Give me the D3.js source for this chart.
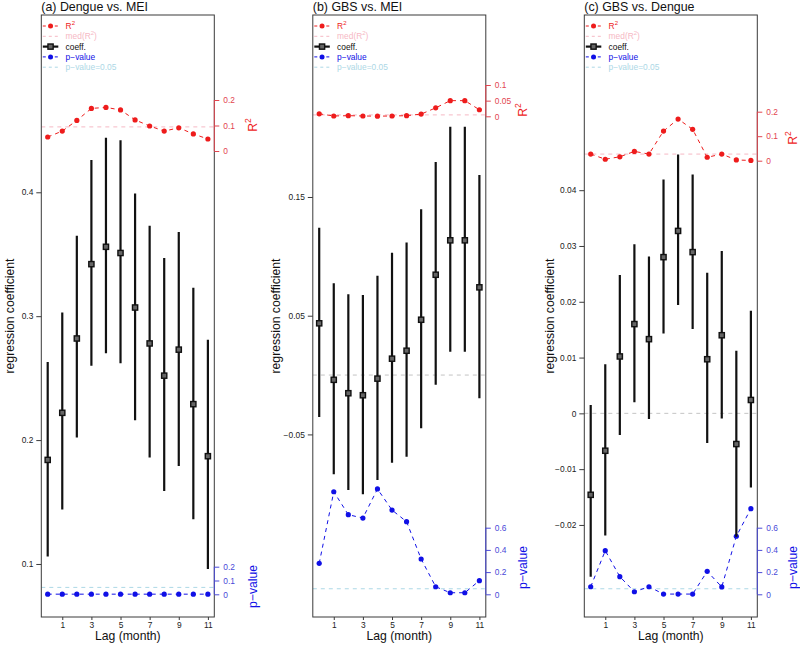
<!DOCTYPE html>
<html><head><meta charset="utf-8">
<script src="https://cdn.jsdelivr.net/npm/d3@7"></script>
<style>body{margin:0;background:#fff} svg{display:block} text{font-family:"Liberation Sans",Arial,Helvetica,sans-serif}</style>
</head><body><svg id="chart" width="800" height="646"></svg>
<script>
// ---------- data ----------
const lags = [0,1,2,3,4,5,6,7,8,9,10,11];
const lagTickLabels = [1,3,5,7,9,11];
const titles = ["(a) Dengue vs. MEI","(b) GBS vs. MEI","(c) GBS vs. Dengue"];

const aCoef  = [0.184,0.222,0.282,0.342,0.356,0.351,0.307,0.278,0.252,0.273,0.229,0.187];
const aLower = [0.106,0.144,0.202,0.260,0.270,0.262,0.216,0.186,0.159,0.179,0.136,0.096];
const aUpper = [0.263,0.303,0.365,0.426,0.444,0.442,0.399,0.373,0.347,0.368,0.323,0.281];
const aR2    = [0.055,0.078,0.120,0.167,0.171,0.161,0.122,0.098,0.078,0.091,0.067,0.047];
const aP     = [0.001,0.001,0.001,0.001,0.001,0.001,0.001,0.001,0.001,0.001,0.001,0.001];

const bCoef  = [0.0436,-0.0040,-0.0153,-0.0170,-0.0030,0.0138,0.0205,0.0466,0.0845,0.1135,0.1135,0.0739];
const bLower = [-0.0353,-0.0836,-0.0969,-0.1005,-0.0884,-0.0739,-0.0688,-0.0448,-0.0082,0.0197,0.0197,-0.0195];
const bUpper = [0.1240,0.0774,0.0680,0.0674,0.0837,0.1030,0.1117,0.1396,0.1795,0.2092,0.2092,0.1685];
const bR2    = [0.008,0.001,0.002,0.001,0.0005,0.001,0.002,0.007,0.027,0.050,0.050,0.021];
const bP     = [0.279,0.924,0.717,0.687,0.949,0.759,0.654,0.318,0.068,0.014,0.014,0.123];

const cCoef  = [-0.0146,-0.0067,0.0102,0.0160,0.0133,0.0280,0.0327,0.0289,0.0097,0.0140,-0.0055,0.0024];
const cLower = [-0.0293,-0.0219,-0.0039,0.0020,-0.0010,0.0143,0.0194,0.0151,-0.0053,-0.0009,-0.0221,-0.0133];
const cUpper = [0.0015,0.0088,0.0248,0.0303,0.0281,0.0419,0.0464,0.0428,0.0252,0.0291,0.0112,0.0184];
const cR2    = [0.027,0.006,0.016,0.038,0.027,0.121,0.170,0.128,0.014,0.027,0.003,0.001];
const cP     = [0.068,0.393,0.159,0.023,0.068,0.002,0.002,0.002,0.207,0.066,0.523,0.771];

const aCoefTicks = [0.1,0.2,0.3,0.4];
const bCoefTicks = [-0.05,0.05,0.15];
const cCoefTicks = [-0.02,-0.01,0,0.01,0.02,0.03,0.04];
const aR2Ticks = [0,0.1,0.2];
const bR2Ticks = [0,0.05,0.1];
const cR2Ticks = [0,0.1,0.2];
const aPTicks = [0,0.1,0.2];
const bPTicks = [0,0.2,0.4,0.6];
const cPTicks = [0,0.2,0.4,0.6];
const pThreshold = 0.05;

const legendLabels = ["R2","med(R2)","coeff.","p\u2212value","p\u2212value=0.05"];

// ---------- layout ----------
const TOP = 15, BOTTOM = 617, W = 173;
const panels = [
  {title:titles[0], coef:aCoef, lo:aLower, hi:aUpper, r2:aR2, p:aP,
   coefTicks:aCoefTicks, r2Ticks:aR2Ticks, pTicks:aPTicks,
   left:41.3, coefDomain:[0.0572,0.5431], r2Range:[151,100], pRange:[594.3,566.7],
   ylabX:10, r2LabY:125, pLabY:586.5, rLabX:38.5},
  {title:titles[1], coef:bCoef, lo:bLower, hi:bUpper, r2:bR2, p:bP,
   coefTicks:bCoefTicks, r2Ticks:bR2Ticks, pTicks:bPTicks,
   left:312.8, coefDomain:[-0.2038,0.3033], r2Range:[116.3,85], pRange:[594.3,527.7],
   ylabX:276, r2LabY:110, pLabY:567.5, rLabX:37},
  {title:titles[2], coef:cCoef, lo:cLower, hi:cUpper, r2:cR2, p:cP,
   coefTicks:cCoefTicks, r2Ticks:cR2Ticks, pTicks:cPTicks,
   left:584.3, coefDomain:[-0.0365,0.0714], r2Range:[160.7,111.7], pRange:[594.3,527.7],
   ylabX:550, r2LabY:138, pLabY:567.5, rLabX:35.5}
];

const RED = "#ee1c1c", REDAX = "#e2454f", PINK = "#f6b8c4", BLUE = "#1010e6", BLUEAX = "#4a4ad8", LBLUE = "#add8e6";
const fmt = v => (v < 0 ? "\u2212" : "") + String(Math.abs(+v.toFixed(4)));

const svg = d3.select("#chart");

panels.forEach(P => {
  const g = svg.append("g");
  const x = d3.scaleLinear().domain([-0.44, 11.44]).range([P.left, P.left + W]);
  const y = d3.scaleLinear().domain(P.coefDomain).range([BOTTOM, TOP]);
  const r2Max = d3.max(P.r2Ticks);
  const yR = d3.scaleLinear().domain([0, r2Max]).range(P.r2Range);
  const pMax = d3.max(P.pTicks);
  const yP = d3.scaleLinear().domain([0, pMax]).range(P.pRange);
  const right = P.left + W;
  const clipId = "clip" + Math.round(P.left);
  svg.append("clipPath").attr("id", clipId).append("rect")
    .attr("x", P.left).attr("y", TOP).attr("width", W).attr("height", BOTTOM - TOP);
  const inner = g.append("g").attr("clip-path", `url(#${clipId})`);

  // zero line
  if (P.coefDomain[0] < 0 && P.coefDomain[1] > 0) {
    inner.append("line").attr("x1", P.left).attr("x2", right)
      .attr("y1", y(0)).attr("y2", y(0))
      .attr("stroke", "#c4c4c4").attr("stroke-width", 1).attr("stroke-dasharray", "4,4");
  }
  // median R2
  const med = d3.median(P.r2);
  inner.append("line").attr("x1", P.left).attr("x2", right)
    .attr("y1", yR(med)).attr("y2", yR(med))
    .attr("stroke", PINK).attr("stroke-width", 1).attr("stroke-dasharray", "4,4");
  // p=0.05
  inner.append("line").attr("x1", P.left).attr("x2", right)
    .attr("y1", yP(pThreshold)).attr("y2", yP(pThreshold))
    .attr("stroke", LBLUE).attr("stroke-width", 1).attr("stroke-dasharray", "4,4");

  // R2 series
  const lineR = d3.line().x((d,i) => x(lags[i])).y(d => yR(d));
  inner.append("path").attr("d", lineR(P.r2)).attr("fill", "none")
    .attr("stroke", RED).attr("stroke-width", 1).attr("stroke-dasharray", "4,4");
  inner.selectAll(".r2pt").data(P.r2).enter().append("circle")
    .attr("cx", (d,i) => x(lags[i])).attr("cy", d => yR(d)).attr("r", 2.6).attr("fill", RED);

  // p series
  const lineP = d3.line().x((d,i) => x(lags[i])).y(d => yP(d));
  inner.append("path").attr("d", lineP(P.p)).attr("fill", "none")
    .attr("stroke", BLUE).attr("stroke-width", 1).attr("stroke-dasharray", "4,4");
  inner.selectAll(".ppt").data(P.p).enter().append("circle")
    .attr("cx", (d,i) => x(lags[i])).attr("cy", d => yP(d)).attr("r", 2.6).attr("fill", BLUE);

  // coefficient CIs
  inner.selectAll(".ci").data(lags).enter().append("line")
    .attr("x1", d => x(d)).attr("x2", d => x(d))
    .attr("y1", (d,i) => y(P.lo[i])).attr("y2", (d,i) => y(P.hi[i]))
    .attr("stroke", "#111").attr("stroke-width", 2.2);
  inner.selectAll(".cpt").data(P.coef).enter().append("rect")
    .attr("x", (d,i) => x(lags[i]) - 2.6).attr("y", d => y(d) - 2.6)
    .attr("width", 5.2).attr("height", 5.2)
    .attr("fill", "#666").attr("stroke", "#111").attr("stroke-width", 1.4);

  // box
  g.append("rect").attr("x", P.left).attr("y", TOP).attr("width", W).attr("height", BOTTOM - TOP)
    .attr("fill", "none").attr("stroke", "#3a3a3a").attr("stroke-width", 1);

  // left axis
  const yAxis = d3.axisLeft(y).tickValues(P.coefTicks).tickSize(5).tickPadding(3).tickFormat(fmt);
  const ga = g.append("g").attr("transform", `translate(${P.left},0)`).call(yAxis);
  ga.select(".domain").remove();
  ga.selectAll("line").attr("stroke", "#3a3a3a");
  ga.selectAll("text").attr("font-size", 8.4).attr("fill", "#222");

  // bottom axis
  const xAxis = d3.axisBottom(x).tickValues(lagTickLabels).tickSize(3).tickPadding(2).tickFormat(d3.format("d"));
  const gx = g.append("g").attr("transform", `translate(0,${BOTTOM})`).call(xAxis);
  gx.select(".domain").remove();
  gx.selectAll("line").attr("stroke", "#3a3a3a");
  gx.selectAll("text").attr("font-size", 8.4).attr("fill", "#222");

  // R2 right axis
  const rAxis = d3.axisRight(yR).tickValues(P.r2Ticks).tickSize(5).tickPadding(4).tickFormat(d => String(d));
  const gr = g.append("g").attr("transform", `translate(${right},0)`).call(rAxis);
  gr.select(".domain").attr("d", `M0,${yR(0)}V${yR(r2Max)}`).attr("stroke", REDAX);
  gr.selectAll("line").attr("stroke", REDAX);
  gr.selectAll("text").attr("font-size", 8.4).attr("fill", REDAX);

  // p right axis
  const pAxis = d3.axisRight(yP).tickValues(P.pTicks).tickSize(5).tickPadding(4).tickFormat(d => String(d));
  const gp = g.append("g").attr("transform", `translate(${right},0)`).call(pAxis);
  gp.select(".domain").attr("d", `M0,${yP(0)}V${yP(pMax)}`).attr("stroke", BLUEAX);
  gp.selectAll("line").attr("stroke", BLUEAX);
  gp.selectAll("text").attr("font-size", 8.4).attr("fill", BLUEAX);

  // titles
  g.append("text").attr("x", P.left).attr("y", 11).attr("font-size", 12.4).attr("fill", "#111").text(P.title);
  g.append("text").attr("x", P.left + W / 2).attr("y", 640).attr("text-anchor", "middle")
    .attr("font-size", 12.2).attr("fill", "#111").text("Lag (month)");
  g.append("text").attr("transform", `translate(${P.ylabX},${(TOP + BOTTOM) / 2}) rotate(-90)`)
    .attr("text-anchor", "middle").attr("dominant-baseline", "central")
    .attr("font-size", 12.2).attr("fill", "#111").text("regression coefficient");
  const rt = g.append("text").attr("transform", `translate(${right + P.rLabX},${P.r2LabY}) rotate(-90)`)
    .attr("text-anchor", "middle").attr("dominant-baseline", "central")
    .attr("font-size", 12.2).attr("fill", RED);
  rt.append("tspan").text("R");
  rt.append("tspan").attr("font-size", 8.5).attr("dy", -5).text("2");
  g.append("text").attr("transform", `translate(${right + P.rLabX},${P.pLabY}) rotate(-90)`)
    .attr("text-anchor", "middle").attr("dominant-baseline", "central")
    .attr("font-size", 12.2).attr("fill", BLUE).text("p\u2212value");

  // legend
  const lx0 = P.left + 1.5, lx1 = P.left + 17, lxm = (lx0 + lx1) / 2, tx = P.left + 24.3;
  const rowY = i => TOP + 11 + i * 10.3;
  const lg = g.append("g");
  // row 0: R2
  lg.append("line").attr("x1", lx0).attr("x2", lx1).attr("y1", rowY(0)).attr("y2", rowY(0))
    .attr("stroke", RED).attr("stroke-dasharray", "3,3");
  lg.append("circle").attr("cx", lxm).attr("cy", rowY(0)).attr("r", 2.5).attr("fill", RED);
  const t0 = lg.append("text").attr("x", tx).attr("y", rowY(0)).attr("dominant-baseline", "central")
    .attr("font-size", 8.4).attr("fill", RED);
  t0.append("tspan").text(legendLabels[0].slice(0,1));
  t0.append("tspan").attr("font-size", 6).attr("dy", -3.5).text(legendLabels[0].slice(1));
  // row 1: med(R2)
  lg.append("line").attr("x1", lx0).attr("x2", lx1).attr("y1", rowY(1)).attr("y2", rowY(1))
    .attr("stroke", PINK).attr("stroke-dasharray", "3,3");
  const t1 = lg.append("text").attr("x", tx).attr("y", rowY(1)).attr("dominant-baseline", "central")
    .attr("font-size", 8.4).attr("fill", PINK);
  t1.append("tspan").text("med(R");
  t1.append("tspan").attr("font-size", 6).attr("dy", -3.5).text("2");
  t1.append("tspan").attr("dy", 3.5).text(")");
  // row 2: coeff
  lg.append("line").attr("x1", lx0).attr("x2", lx1).attr("y1", rowY(2)).attr("y2", rowY(2))
    .attr("stroke", "#111").attr("stroke-width", 2.2);
  lg.append("rect").attr("x", lxm - 2.6).attr("y", rowY(2) - 2.6).attr("width", 5.2).attr("height", 5.2)
    .attr("fill", "#666").attr("stroke", "#111").attr("stroke-width", 1.4);
  lg.append("text").attr("x", tx).attr("y", rowY(2)).attr("dominant-baseline", "central")
    .attr("font-size", 8.4).attr("fill", "#111").text(legendLabels[2]);
  // row 3: p-value
  lg.append("line").attr("x1", lx0).attr("x2", lx1).attr("y1", rowY(3)).attr("y2", rowY(3))
    .attr("stroke", BLUE).attr("stroke-dasharray", "3,3");
  lg.append("circle").attr("cx", lxm).attr("cy", rowY(3)).attr("r", 2.5).attr("fill", BLUE);
  lg.append("text").attr("x", tx).attr("y", rowY(3)).attr("dominant-baseline", "central")
    .attr("font-size", 8.4).attr("fill", BLUE).text(legendLabels[3]);
  // row 4: p=0.05
  lg.append("line").attr("x1", lx0).attr("x2", lx1).attr("y1", rowY(4)).attr("y2", rowY(4))
    .attr("stroke", LBLUE).attr("stroke-dasharray", "3,3");
  lg.append("text").attr("x", tx).attr("y", rowY(4)).attr("dominant-baseline", "central")
    .attr("font-size", 8.4).attr("fill", LBLUE).text(legendLabels[4]);
});
</script></body></html>
